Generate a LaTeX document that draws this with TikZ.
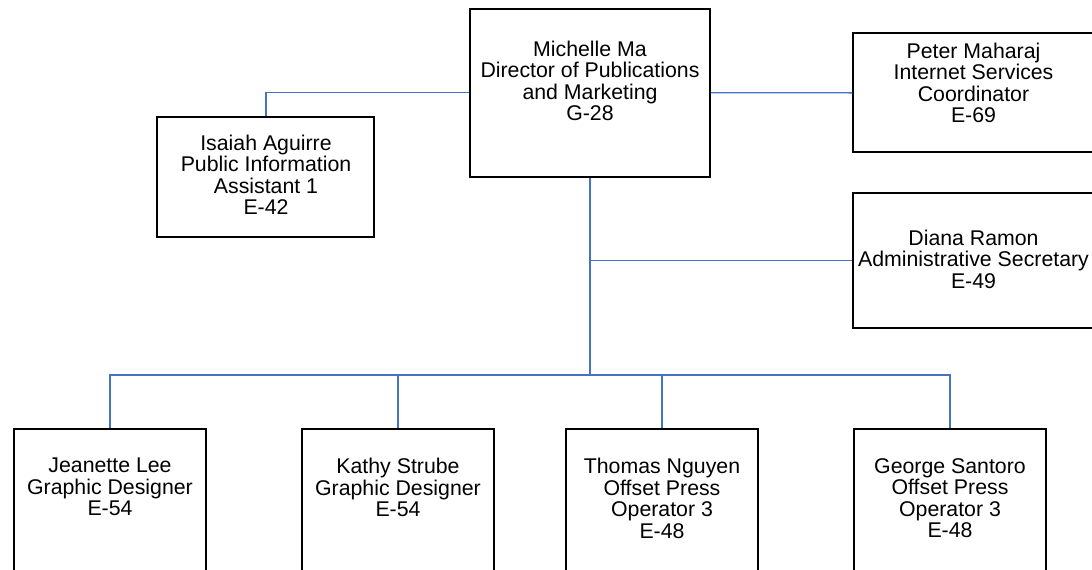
\documentclass[tikz,border=0pt]{standalone}
\usepackage{fontspec}
\setmainfont{Liberation Sans}
\definecolor{conn}{HTML}{4472C4}
\tikzset{
  box/.style={draw=black, line width=2pt, rectangle, inner sep=0pt},
  txt/.style={anchor=north, inner sep=0pt, align=center, font=\fontsize{21.3}{21.5}\selectfont},
  link/.style={draw=conn, line width=1.4pt}
}
\begin{document}
\begin{tikzpicture}[x=1pt,y=-1pt]
\useasboundingbox (0,0) rectangle (1092,570);
\clip (0,0) rectangle (1092,570);
% boxes
\node[box, minimum width=240pt, minimum height=167.5pt] (m) at (590,92.75) {};
\node[box, minimum width=217pt, minimum height=120pt] (i) at (265.8,176.7) {};
\node[box, minimum width=240pt, minimum height=119pt] (p) at (973.3,92.8) {};
\node[box, minimum width=240pt, minimum height=134.4pt] (d) at (973.3,260.5) {};
\node[box, minimum width=192pt, minimum height=190pt] (j) at (110,524) {};
\node[box, minimum width=192pt, minimum height=190pt] (k) at (398,524) {};
\node[box, minimum width=192pt, minimum height=190pt] (t) at (662,524) {};
\node[box, minimum width=192pt, minimum height=190pt] (g) at (950,524) {};
% texts
\node[txt] (mt) at (590,40.7) {Michelle Ma\\Director of Publications\\and Marketing\\G-28};
\node[txt] (it) at (266,134.7) {Isaiah Aguirre\\Public Information\\Assistant 1\\E-42};
\node[txt] (pt) at (973.5,42.4) {Peter Maharaj\\Internet Services\\Coordinator\\E-69};
\node[txt] (dt) at (973.5,229.7) {Diana Ramon\\Administrative Secretary\\E-49};
\node[txt] (jt) at (110,458) {Jeanette Lee\\Graphic Designer\\E-54};
\node[txt] (kt) at (398,458) {Kathy Strube\\Graphic Designer\\E-54};
\node[txt] (tt) at (662,458) {Thomas Nguyen\\Offset Press\\Operator 3\\E-48};
\node[txt] (gt) at (950,458) {George Santoro\\Offset Press\\Operator 3\\E-48};
% connectors
\coordinate (bus) at (590,375);
\draw[link] (m.west) -| (i.north);
\draw[link] (m.east) -- (p.west);
\draw[link] (m.south) -- (bus);
\draw[link] (d.west) -- (d.west -| m.south);
\draw[link] (bus) -| (j.north);
\draw[link] (bus) -| (k.north);
\draw[link] (bus) -| (t.north);
\draw[link] (bus) -| (g.north);
\end{tikzpicture}
\end{document}
